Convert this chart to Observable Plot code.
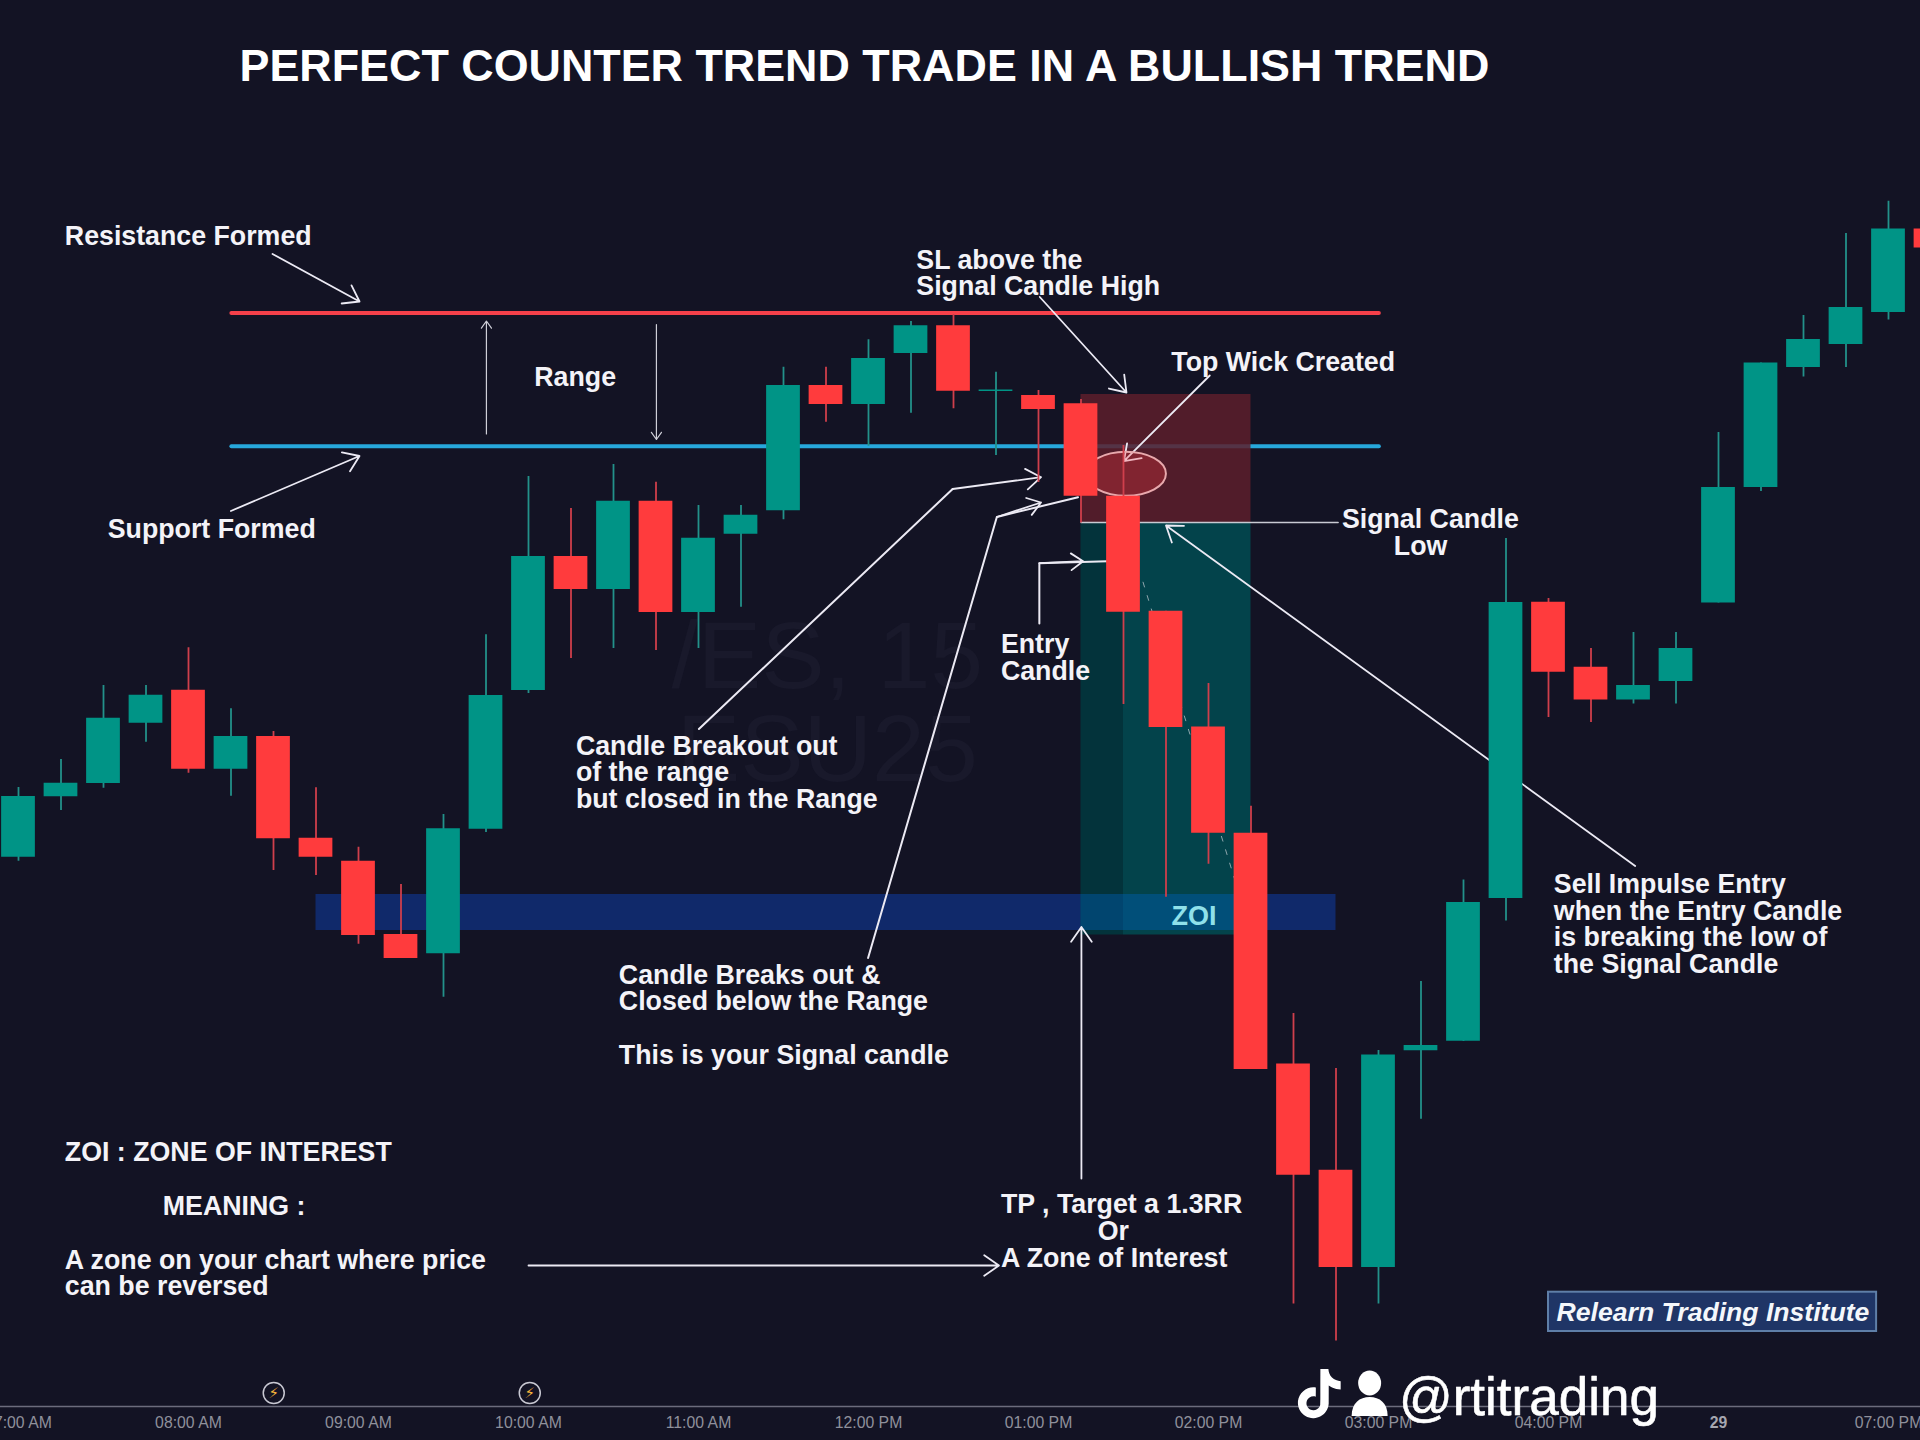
<!DOCTYPE html>
<html><head><meta charset="utf-8">
<style>html,body{margin:0;padding:0;background:#131324;overflow:hidden}svg{display:block}</style>
<script src="https://cdn.jsdelivr.net/npm/d3@7"></script>
<script src="https://cdn.jsdelivr.net/npm/@observablehq/plot@0.6"></script>
</head><body><div id="chart"></div>
<script>
// Candles, 15-minute bars (bar number, prices)
const opens  = [6328.65,6340.75,6343.4,6355.45,6362.05,6346.25,6352.8,6332.45,6327.85,6313.2,6309.35,6334.25,6362,6388.8,6382.2,6399.85,6377.6,6393.25,6397.95,6423,6419.2,6429.4,6434.95,6421.8,6421,6419.35,6400.85,6377.85,6354.7,6333.45,6287.3,6266.05,6246.6,6289.95,6291.85,6320.4,6379.65,6366.65,6360.1,6363.8,6379.5,6402.6,6426.6,6431.2,6437.6,6454.3];
const highs  = [6342.6,6348.2,6363,6363,6370.55,6358.35,6353.8,6342.55,6330.65,6323.2,6337.2,6373.15,6404.8,6398.4,6407.2,6403.65,6399,6399,6426.65,6426.65,6432.15,6435.8,6437.2,6425.65,6422,6420.2,6411,6377.85,6363.4,6338.85,6297.4,6286.4,6290,6303.8,6324.1,6392.4,6380.4,6370.4,6373.6,6373.6,6413.6,6427.5,6437,6453.4,6459.85,6454.3];
const lows   = [6327.85,6338,6342.45,6351.65,6345.45,6340.85,6326,6325,6311.25,6308.4,6300.65,6333.6,6361.4,6368.4,6370.4,6370,6370.4,6378.65,6396.15,6415.65,6410.85,6417.45,6418.35,6409,6403.6,6395.5,6359.2,6320.65,6327.25,6286.2,6239.3,6231.9,6239.3,6276.25,6291.8,6315.9,6356.6,6355.6,6359.3,6359.3,6379.5,6401.8,6424.7,6426.6,6436.1,6450.5];
const closes = [6340.8,6343.45,6356.45,6361.05,6346.25,6352.8,6332.35,6328.65,6313,6308.4,6334.35,6361,6388.8,6382.2,6399.85,6377.6,6392.45,6397.05,6423,6419.2,6428.4,6434.95,6421.85,6422.1,6418.2,6400.85,6377.65,6354.6,6333.45,6286.2,6265.05,6246.6,6289.1,6291,6319.6,6379.6,6365.65,6360.1,6363,6370.4,6402.6,6427.5,6432.2,6438.6,6454.3,6450.5];
const candles = opens.map((open,i)=>({i,open,high:highs[i],low:lows[i],close:closes[i],up:closes[i]>=open}));

// Time axis
const tickBars   = [0,4,8,12,16,20,24,28,32,36,44];
const tickLabels = ["07:00 AM","08:00 AM","09:00 AM","10:00 AM","11:00 AM","12:00 PM","01:00 PM","02:00 PM","03:00 PM","04:00 PM","07:00 PM"];
const dayBars = [40];
const dayLabels = ["29"];
const newsBars = [6.006,12.03];

// Levels and zones
const levels = [{price:6437.5,from:5.02,to:32.02,color:"#f5404a"},{price:6410.85,from:5.02,to:32.02,color:"#27a8dc"}];
const zoi = {from:7,to:31,top:6321.2,bottom:6314};
const stopZone = {from:25,to:29,top:6421.2,bottom:6395.6};
const targetZones = [{from:25,to:26,fill:"#003c41"},{from:26,to:29,fill:"#005055"}];
const targetTop = 6395.6, targetBottom = 6313.1;

// Annotation arrows: [from bar, from price, to bar, to price]
const arrows = [
 [5.977,6449.3,8.024,6439.8],[4.997,6397.9,8.024,6408.9],[24.03,6440.7,26.07,6421.6],
 [28.03,6425,26.01,6407.86],[21.98,6402.3,24.06,6404.66],[23.02,6396.7,24.06,6399.6],
 [24.02,6387.46,25.05,6387.86],[38.04,6326.9,27,6395],[25.01,6264.4,25.01,6314.7],[12,6247,23.07,6247]
];
const thinArrows = [[11.01,6413.3,11.01,6435.9],[15.01,6435.2,15.01,6412.2]];
const elbows = [
 [[16.01,6354.3],[21.98,6402.3]],
 [[19.99,6308.5],[23.02,6396.7],[24.93,6400.66]],
 [[24.02,6375.4],[24.02,6387.46],[25.62,6387.86]]
];
const signalLow = [[31.05,6395.6],[25,6395.6]];
const dashedPath = [[26.46,6383.66],[28.61,6324.4]];
const wickCircle = {bar:26.07,price:6405.26,rBars:0.94,rPrice:4.4};

// Text
const notes = [
 ["Resistance Formed",1.104,6454.7],["SL above the\nSignal Candle High",21.14,6450],["Top Wick Created",27.14,6429.5],
 ["Range",12.15,6426.5],["Support Formed",2.113,6396.2],["Entry\nCandle",23.13,6373.1],
 ["Candle Breakout out\nof the range\nbut closed in the Range",13.13,6352.8],
 ["Sell Impulse Entry\nwhen the Entry Candle\nis breaking the low of\nthe Signal Candle",36.14,6325.1],
 ["Candle Breaks out &\nClosed below the Range\n\nThis is your Signal candle",14.14,6307],
 ["ZOI : ZONE OF INTEREST",1.104,6271.5],["MEANING :",3.41,6260.7],
 ["A zone on your chart where price\ncan be reversed",1.104,6250],
 ["TP , Target a 1.3RR",23.13,6261.2],["A Zone of Interest",23.13,6250.4]
];
const centredNotes = [["Signal Candle",33.22,6398.1],["Low",32.99,6392.7],["Or",25.76,6255.8]];
const title = ["PERFECT COUNTER TREND TRADE IN A BULLISH TREND",5.2,6490.2];
const symbolWatermark = [["/ES, 15",19.03,6376],["ESU25",19.03,6357.4]];
const handle = ["@rtitrading",32.48,6217.2];
const badge = {from:36,to:43.72,top:6241.66,bottom:6233.8,text:"Relearn Trading Institute"};

function seg4(){return {x1:d=>d[0],y1:d=>d[1],x2:d=>d[2],y2:d=>d[3]};}
const tickName = d => tickLabels[tickBars.indexOf(d)];
const FONT = "Liberation Sans, Arial, sans-serif";
const white = "#eceaf4";
const TIKTOK = "M12.525.02c1.31-.02 2.61-.01 3.91-.02.08 1.53.63 3.09 1.75 4.17 1.12 1.11 2.7 1.62 4.24 1.79v4.03c-1.44-.05-2.89-.35-4.2-.97-.57-.26-1.1-.59-1.62-.93-.01 2.92.01 5.84-.02 8.75-.08 1.4-.54 2.79-1.35 3.94-1.31 1.92-3.58 3.17-5.91 3.21-1.43.08-2.86-.31-4.08-1.03-2.02-1.19-3.44-3.37-3.65-5.71-.02-.5-.03-1-.01-1.49.18-1.9 1.12-3.72 2.58-4.96 1.66-1.44 3.98-2.13 6.15-1.72.02 1.48-.04 2.96-.04 4.44-.99-.32-2.15-.23-3.02.37-.63.41-1.11 1.04-1.36 1.75-.21.51-.15 1.07-.14 1.61.24 1.64 1.82 3.02 3.5 2.87 1.12-.01 2.19-.66 2.77-1.61.19-.33.4-.67.41-1.06.1-1.79.06-3.57.07-5.36.01-4.03-.01-8.05.02-12.07z";

const chart = Plot.plot({
  width:1920, height:1440,
  marginLeft:0, marginRight:0, marginTop:0, marginBottom:34,
  style:{background:"#131324",fontFamily:FONT},
  x:{domain:[-0.4235,44.753],axis:null},
  y:{domain:[6218.8,6500],axis:null},
  marks:[
    Plot.text(symbolWatermark,{text:d=>d[0],x:d=>d[1],y:d=>d[2],textAnchor:"middle",lineAnchor:"top",fontSize:95,fill:"#19192b"}),
    Plot.ruleY([6218.8],{stroke:"#6c6c7c",strokeWidth:1.5}),
    Plot.axisX({ticks:tickBars,tickFormat:tickName,anchor:"bottom",tickSize:0,tickPadding:10,fontSize:15.8,fill:"#8f909b",label:null}),
    Plot.axisX({ticks:dayBars,tickFormat:()=>dayLabels[0],anchor:"bottom",tickSize:0,tickPadding:10,fontSize:15.8,fontWeight:"bold",fill:"#a5a6b0",label:null}),
    Plot.dot(newsBars,{x:d=>d,y:()=>6221.5,r:10.5,stroke:"#c8c8d2",strokeWidth:1.5,fill:"#131324"}),
    Plot.text(newsBars,{x:d=>d,y:()=>6221.5,text:()=>"\u26A1",fontSize:15,fill:"#f5b63c",fontFamily:"DejaVu Sans"}),
    Plot.ruleY(levels,{y:"price",x1:"from",x2:"to",stroke:"color",strokeWidth:4,strokeLinecap:"round"}),
    Plot.rect([zoi],{x1:"from",x2:"to",y1:"top",y2:"bottom",fill:"#10296a"}),
    Plot.rect([stopZone],{x1:"from",x2:"to",y1:"top",y2:"bottom",fill:"#5d1f2c",fillOpacity:0.85}),
    Plot.rect(targetZones,{x1:"from",x2:"to",y1:()=>targetTop,y2:()=>targetBottom,fill:"fill",fillOpacity:0.8}),
    Plot.rect([zoi],{x1:()=>25,x2:()=>29,y1:"top",y2:"bottom",fill:"#005aaa",fillOpacity:0.4}),
    Plot.line(dashedPath,{x:d=>d[0],y:d=>d[1],stroke:"#8fa6ad",strokeWidth:1,strokeDasharray:"5,9"}),
    Plot.arrow(thinArrows,{...seg4(),stroke:"#cfcfd8",strokeWidth:1.2,headLength:11,headAngle:70}),
    ...elbows.map(e=>Plot.line(e,{x:d=>d[0],y:d=>d[1],stroke:white,strokeWidth:2,strokeLinejoin:"round"})),
    Plot.line(signalLow,{x:d=>d[0],y:d=>d[1],stroke:"#c9cad3",strokeWidth:1.5}),
    Plot.arrow(arrows,{...seg4(),stroke:white,strokeWidth:1.8,headLength:15,headAngle:70}),
    (_i,{x,y})=>{
      const rx=Math.abs(x(wickCircle.bar+wickCircle.rBars)-x(wickCircle.bar));
      const ry=Math.abs(y(wickCircle.price+wickCircle.rPrice)-y(wickCircle.price));
      return d3.create("svg:ellipse").attr("cx",x(wickCircle.bar)).attr("cy",y(wickCircle.price))
        .attr("rx",rx).attr("ry",ry).attr("fill","#ff3b3f").attr("fill-opacity",0.28)
        .attr("stroke","#e8a9ad").attr("stroke-width",2).node();
    },
    Plot.ruleX(candles,{x:"i",y1:"low",y2:"high",stroke:d=>d.up?"#23918a":"#cf3f4c",strokeWidth:1.8}),
    Plot.rect(candles,{x1:d=>d.i-0.397,x2:d=>d.i+0.397,y1:"open",y2:"close",fill:d=>d.up?"#009486":"#ff3b3d"}),
    Plot.text([title],{text:d=>d[0],x:d=>d[1],y:d=>d[2],textAnchor:"start",lineAnchor:"top",fontSize:44.85,fontWeight:"bold",fill:"#fff"}),
    Plot.text(notes,{text:d=>d[0],x:d=>d[1],y:d=>d[2],dy:-1,dx:-0.6,textAnchor:"start",lineAnchor:"top",lineHeight:1,fontSize:26.75,fontWeight:"bold",fill:"#f4f3f8"}),
    Plot.text(centredNotes,{text:d=>d[0],x:d=>d[1],y:d=>d[2],dy:-1,textAnchor:"middle",lineAnchor:"top",fontSize:26.75,fontWeight:"bold",fill:"#f4f3f8"}),
    Plot.text(["ZOI"],{x:()=>27.66,y:()=>6316.8,text:d=>d,fontSize:27,fontWeight:"bold",fill:"#8fe0ea"}),
    Plot.rect([badge],{x1:"from",x2:"to",y1:"top",y2:"bottom",fill:"#1f3566",stroke:"#5f7fa8",strokeWidth:2}),
    Plot.text([badge],{x:()=>39.87,y:()=>6237.7,text:"text",fontSize:26.6,fontStyle:"italic",fontWeight:"bold",fill:"#f4f7fb"}),
    Plot.text([handle],{text:d=>d[0],x:d=>d[1],y:d=>d[2],textAnchor:"start",lineAnchor:"bottom",fontSize:53,fill:"#ffffff",stroke:"#ffffff",strokeWidth:0.6}),
    (_i,{x,y})=>{
      const g=d3.create("svg:g");
      g.append("path").attr("d",TIKTOK).attr("fill","#fff").attr("transform",`translate(${x(30.04)},${y(6226.2)}) scale(2.05)`);
      const p=g.append("g").attr("transform",`translate(${x(31.38)},${y(6225.8)})`).attr("fill","#fff");
      p.append("ellipse").attr("cx",18).attr("cy",12).attr("rx",11.5).attr("ry",12.5);
      p.append("path").attr("d","M0 45 C0 32 8 26 18 26 C28 26 36 32 36 45 Z");
      return g.node();
    }
  ]
});
document.getElementById("chart").appendChild(chart);
</script></body></html>
